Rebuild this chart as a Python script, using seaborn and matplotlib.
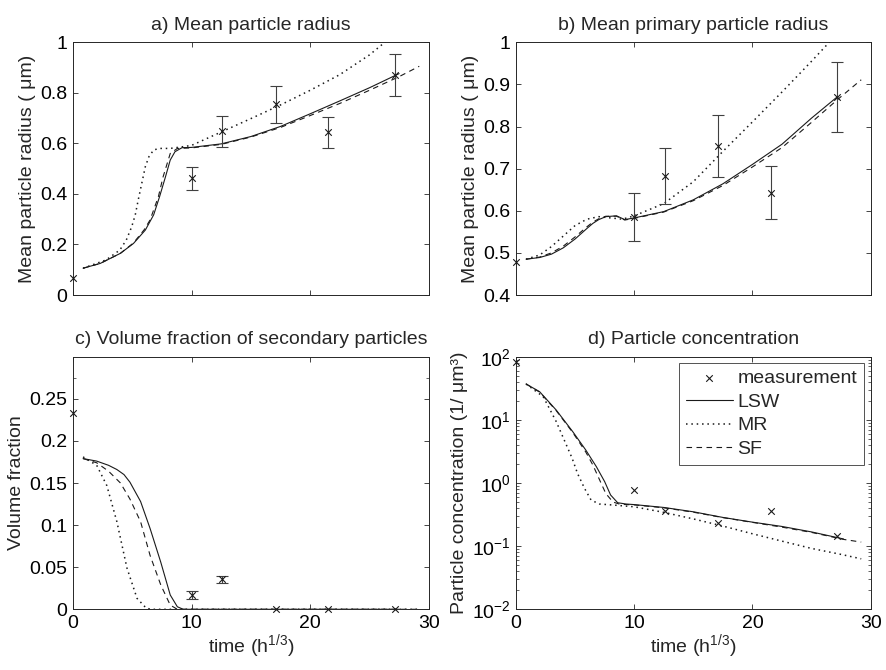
import numpy as np
import pandas as pd
import matplotlib
matplotlib.use('Agg')
import matplotlib.pyplot as plt
import seaborn as sns

#Measurement times (h^1/3)
t_meas = [0, 10, 12.6, 17.1, 21.54, 27.14]

#a) mean particle radius
a_meas = [0.068, 0.462, 0.647, 0.755, 0.644, 0.871]
a_err = [0, 0.045, 0.062, 0.073, 0.062, 0.084]
ta_lsw = [0.85, 2.3, 4.0, 5.1, 6.1, 6.8, 7.3, 7.8, 8.2, 8.6, 9.2, 10, 12.5, 15, 17.5, 20, 22.5, 25, 27.5]
a_lsw = [0.106, 0.125, 0.165, 0.204, 0.257, 0.317, 0.389, 0.468, 0.534, 0.567, 0.583, 0.584, 0.598, 0.627, 0.667, 0.717, 0.768, 0.82, 0.876]
ta_mr = [0.85, 2.8, 3.95, 4.5, 4.95, 5.25, 5.5, 5.8, 6.1, 6.4, 6.8, 7.3, 8.2, 9.3, 10, 12.5, 15, 17.5, 20, 22.5, 25, 26.3, 27.2]
a_mr = [0.106, 0.139, 0.178, 0.218, 0.27, 0.317, 0.376, 0.442, 0.508, 0.547, 0.574, 0.58, 0.58, 0.587, 0.592, 0.645, 0.698, 0.752, 0.81, 0.872, 0.95, 1.0, 1.04]
ta_sf = [0.85, 2.3, 4.0, 5.1, 6.0, 6.5, 7.2, 7.6, 8.2, 8.8, 10, 12.5, 15, 17.5, 20, 22.5, 25, 27.5, 29.2]
a_sf = [0.106, 0.125, 0.165, 0.206, 0.258, 0.297, 0.389, 0.468, 0.56, 0.58, 0.582, 0.596, 0.625, 0.663, 0.71, 0.758, 0.81, 0.864, 0.905]

#b) mean primary particle radius
b_meas = [0.479, 0.585, 0.683, 0.754, 0.643, 0.870]
b_err = [0, 0.056, 0.067, 0.073, 0.063, 0.084]
tb_lsw = [0.85, 2, 3, 4, 5, 6, 6.5, 7, 7.6, 8.5, 9.2, 10, 12.5, 15, 17.5, 20, 22.5, 25, 27.2]
b_lsw = [0.485, 0.489, 0.497, 0.512, 0.533, 0.558, 0.57, 0.579, 0.586, 0.588, 0.579, 0.583, 0.598, 0.626, 0.664, 0.71, 0.758, 0.82, 0.871]
tb_mr = [0.85, 2, 3, 4, 5, 6, 7, 8, 9, 10, 12.5, 15, 17.5, 20, 22.5, 25, 26.5, 27.2]
b_mr = [0.485, 0.495, 0.515, 0.54, 0.565, 0.58, 0.586, 0.583, 0.58, 0.588, 0.617, 0.669, 0.741, 0.811, 0.882, 0.955, 1.0, 1.02]
tb_sf = [0.85, 2, 3, 4, 5, 6, 6.5, 7, 7.6, 8.5, 9.2, 10, 12.5, 15, 17.5, 20, 22.5, 25, 27.2, 29.2]
b_sf = [0.485, 0.49, 0.5, 0.516, 0.538, 0.562, 0.573, 0.581, 0.587, 0.587, 0.578, 0.582, 0.597, 0.624, 0.66, 0.704, 0.75, 0.81, 0.864, 0.911]

#c) volume fraction of secondary particles
c_meas = [0.233, 0.017, 0.0355, 0, 0, 0]
c_err = [0, 0.005, 0.0045, 0, 0, 0]
tc_lsw = [0.85, 2, 3, 3.7, 4.3, 4.8, 5.7, 6.5, 7.4, 8.2, 8.8, 9.3, 15, 20, 27.5]
c_lsw = [0.179, 0.176, 0.171, 0.166, 0.16, 0.151, 0.128, 0.096, 0.056, 0.017, 0.003, 0.0, 0, 0, 0]
tc_mr = [0.85, 2, 2.85, 3.7, 4.55, 5.4, 6.2, 6.8, 15, 20, 29.2]
c_mr = [0.181, 0.171, 0.147, 0.104, 0.049, 0.013, 0.001, 0, 0, 0, 0]
tc_sf = [0.85, 2, 3, 4, 4.8, 5.7, 6.5, 7.4, 8.2, 8.8, 15, 20, 29.2]
c_sf = [0.179, 0.174, 0.164, 0.15, 0.131, 0.104, 0.064, 0.029, 0.005, 0.0, 0, 0, 0]

#d) particle concentration
d_meas = [83, 0.77, 0.365, 0.23, 0.365, 0.147]
td_lsw = [0.85, 2, 3.4, 4.8, 5.9, 6.8, 7.5, 8.0, 8.6, 9.3, 10, 12.5, 15, 17.5, 20, 22.5, 25, 27.7]
d_lsw = [37, 27.9, 14.3, 6.5, 3.33, 1.81, 1.05, 0.646, 0.487, 0.465, 0.455, 0.41, 0.35, 0.285, 0.24, 0.205, 0.168, 0.13]
td_mr = [0.85, 2.3, 3.4, 4.2, 4.75, 5.2, 5.8, 6.35, 7.05, 8.2, 10, 12.5, 15, 17.5, 20, 22.5, 25, 27.5, 29.2]
d_mr = [37, 23.3, 9.4, 4.25, 2.46, 1.42, 0.82, 0.537, 0.465, 0.448, 0.42, 0.343, 0.27, 0.208, 0.157, 0.12, 0.092, 0.074, 0.063]
td_sf = [0.85, 2, 3.4, 4.8, 5.9, 6.5, 7.2, 7.6, 8.2, 8.8, 10, 12.5, 15, 17.5, 20, 22.5, 25, 27.7, 29.2]
d_sf = [37, 27.5, 14, 6.3, 3.1, 1.93, 0.99, 0.68, 0.5, 0.46, 0.45, 0.405, 0.345, 0.283, 0.238, 0.2, 0.165, 0.128, 0.116]

FS = 14

sns.set_theme(style='ticks')
plt.rcParams['font.family'] = ['Liberation Sans', 'DejaVu Sans']
plt.rcParams['mathtext.default'] = 'regular'
plt.rcParams['font.size'] = FS
plt.rcParams['axes.labelsize'] = FS
plt.rcParams['axes.linewidth'] = 0.7
plt.rcParams['axes.edgecolor'] = '0.15'
for k in ['xtick', 'ytick']:
    plt.rcParams[k + '.direction'] = 'in'
    plt.rcParams[k + '.labelsize'] = FS
    plt.rcParams[k + '.major.size'] = 3.5
    plt.rcParams[k + '.minor.size'] = 2
    plt.rcParams[k + '.major.width'] = 0.6
    plt.rcParams[k + '.minor.width'] = 0.5
    plt.rcParams[k + '.color'] = '0.15'
    plt.rcParams[k + '.labelcolor'] = 'black'
plt.rcParams['xtick.top'] = True
plt.rcParams['ytick.right'] = True
plt.rcParams['xtick.major.pad'] = 4
plt.rcParams['ytick.major.pad'] = 4

fig = plt.figure(figsize=(8.86, 6.70), dpi=100)
ax_a = fig.add_axes([0.0824, 0.5597, 0.4015, 0.3772])
ax_b = fig.add_axes([0.5824, 0.5597, 0.4003, 0.3772])
ax_c = fig.add_axes([0.0824, 0.0906, 0.4015, 0.3770])
ax_d = fig.add_axes([0.5824, 0.0906, 0.4003, 0.3770])

dot_style = (0, (1, 2.5))
dash_style = (0, (5, 4))

def draw_panel(ax, meas, err, lsw, mr, sf, legend=False):
    lab = (lambda s: s) if legend else (lambda s: None)
    sns.scatterplot(x=t_meas, y=meas, ax=ax, marker='x', color='k', s=22,
                    linewidth=0.8, label=lab('measurement'), zorder=4, clip_on=False)
    if err is not None:
        idx = [i for i, e in enumerate(err) if e > 0]
        ax.errorbar([t_meas[i] for i in idx], [meas[i] for i in idx],
                    yerr=[err[i] for i in idx], fmt='none', ecolor='0.25',
                    elinewidth=0.8, capsize=4, capthick=0.8, zorder=3)
    sns.lineplot(x=lsw[0], y=lsw[1], ax=ax, color='k', lw=0.8, sort=False,
                 estimator=None, label=lab('LSW'))
    sns.lineplot(x=mr[0], y=mr[1], ax=ax, color='k', lw=1.1, sort=False,
                 estimator=None, linestyle=dot_style, label=lab('MR'))
    sns.lineplot(x=sf[0], y=sf[1], ax=ax, color='k', lw=0.8, sort=False,
                 estimator=None, linestyle=dash_style, label=lab('SF'))
    if not legend and ax.get_legend() is not None:
        ax.get_legend().remove()
    ax.set_xlim(0, 30)
    ax.set_xticks([0, 10, 20, 30])
    for s in ax.spines.values():
        s.set_visible(True)

draw_panel(ax_a, a_meas, a_err, (ta_lsw, a_lsw), (ta_mr, a_mr), (ta_sf, a_sf))
ax_a.set_ylim(0, 1)
ax_a.set_yticks([0, 0.2, 0.4, 0.6, 0.8, 1])
ax_a.set_yticklabels(['0', '0.2', '0.4', '0.6', '0.8', '1'])
ax_a.set_xticklabels([])
ax_a.set_ylabel('Mean particle radius ( μm)', labelpad=3)
ax_a.set_title('a) Mean particle radius', fontsize=FS, pad=9)

draw_panel(ax_b, b_meas, b_err, (tb_lsw, b_lsw), (tb_mr, b_mr), (tb_sf, b_sf))
ax_b.set_ylim(0.4, 1)
ax_b.set_yticks([0.4, 0.5, 0.6, 0.7, 0.8, 0.9, 1])
ax_b.set_yticklabels(['0.4', '0.5', '0.6', '0.7', '0.8', '0.9', '1'])
ax_b.set_xticklabels([])
ax_b.set_ylabel('Mean particle radius ( μm)', labelpad=3)
ax_b.set_title('b) Mean primary particle radius', fontsize=FS, pad=9)

draw_panel(ax_c, c_meas, c_err, (tc_lsw, c_lsw), (tc_mr, c_mr), (tc_sf, c_sf))
ax_c.set_ylim(0, 0.3)
ax_c.set_yticks([0, 0.05, 0.1, 0.15, 0.2, 0.25])
ax_c.set_yticklabels(['0', '0.05', '0.1', '0.15', '0.2', '0.25'])
ax_c.set_yticks([0.275], minor=True)
ax_c.set_xticklabels(['0', '10', '20', '30'])
ax_c.set_ylabel('Volume fraction', labelpad=3)
ax_c.set_xlabel('time (h$^{1/3}$)', labelpad=0)
ax_c.set_title('c) Volume fraction of secondary particles', fontsize=FS, pad=9)

draw_panel(ax_d, d_meas, None, (td_lsw, d_lsw), (td_mr, d_mr), (td_sf, d_sf), legend=True)
ax_d.set_yscale('log')
ax_d.set_ylim(1e-2, 1e2)
ax_d.set_yticks([1e-2, 1e-1, 1e0, 1e1, 1e2])
ax_d.set_xticklabels(['0', '10', '20', '30'])
ax_d.set_ylabel('Particle concentration (1/ μm³)', labelpad=3)
ax_d.set_xlabel('time (h$^{1/3}$)', labelpad=0)
ax_d.set_title('d) Particle concentration', fontsize=FS, pad=9)

handles, labels = ax_d.get_legend_handles_labels()
order = [labels.index(n) for n in ['measurement', 'LSW', 'MR', 'SF']]
leg = ax_d.legend([handles[i] for i in order], [labels[i] for i in order],
                  loc='upper right', bbox_to_anchor=(0.981, 0.975), borderaxespad=0,
                  frameon=True, fancybox=False, edgecolor='0.15', fontsize=FS,
                  handlelength=2.4, handletextpad=0.25, labelspacing=0.3,
                  borderpad=0.35)
leg.get_frame().set_linewidth(0.7)

fig.savefig('out.png', dpi=100)
